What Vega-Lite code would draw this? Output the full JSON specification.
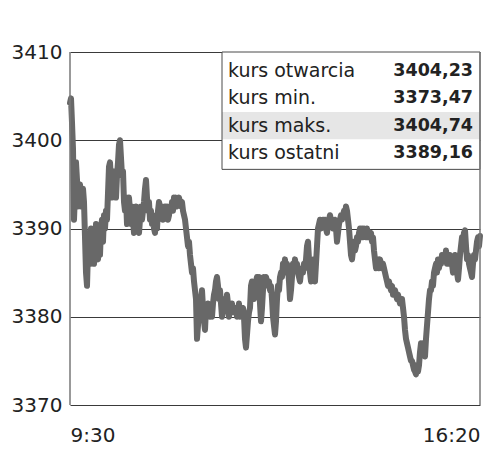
{
  "$schema": "https://vega.github.io/schema/vega-lite/v6.json",
  "width": 410,
  "height": 353,
  "autosize": "none",
  "padding": {"left": 70, "top": 52, "right": 20, "bottom": 55},
  "background": "white",
  "config": {"view": {"stroke": null}, "font": "DejaVu Sans"},
  "datasets": {
    "table": [
      {"row": 1, "label": "kurs otwarcia", "value": "3404,23"},
      {"row": 2, "label": "kurs min.", "value": "3373,47"},
      {"row": 3, "label": "kurs maks.", "value": "3404,74"},
      {"row": 4, "label": "kurs ostatni", "value": "3389,16"}
    ],
    "prices": [
      {"t":"09:30","v":3404.23},{"t":"09:31","v":3404.74},{"t":"09:32","v":3402.0},{"t":"09:33","v":3399.0},{"t":"09:34","v":3391.0},{"t":"09:35","v":3394.0},{"t":"09:36","v":3397.5},{"t":"09:37","v":3395.5},{"t":"09:38","v":3392.5},{"t":"09:39","v":3394.5},
      {"t":"09:40","v":3395.0},{"t":"09:41","v":3392.5},{"t":"09:42","v":3393.0},{"t":"09:43","v":3394.5},{"t":"09:44","v":3393.0},{"t":"09:45","v":3389.0},{"t":"09:46","v":3385.0},{"t":"09:47","v":3383.5},{"t":"09:48","v":3387.5},{"t":"09:49","v":3389.5},
      {"t":"09:50","v":3386.0},{"t":"09:51","v":3390.0},{"t":"09:52","v":3387.5},{"t":"09:53","v":3389.5},{"t":"09:54","v":3386.0},{"t":"09:55","v":3388.5},{"t":"09:56","v":3390.5},{"t":"09:57","v":3387.0},{"t":"09:58","v":3386.5},{"t":"09:59","v":3388.5},
      {"t":"10:00","v":3387.0},{"t":"10:01","v":3390.0},{"t":"10:02","v":3391.0},{"t":"10:03","v":3388.5},{"t":"10:04","v":3391.5},{"t":"10:05","v":3390.0},{"t":"10:06","v":3392.0},{"t":"10:07","v":3391.0},{"t":"10:08","v":3394.0},{"t":"10:09","v":3397.0},
      {"t":"10:10","v":3397.5},{"t":"10:11","v":3395.5},{"t":"10:12","v":3393.5},{"t":"10:13","v":3396.0},{"t":"10:14","v":3395.0},{"t":"10:15","v":3396.5},{"t":"10:16","v":3393.5},{"t":"10:17","v":3396.0},{"t":"10:18","v":3397.5},{"t":"10:19","v":3399.5},
      {"t":"10:20","v":3400.0},{"t":"10:21","v":3398.0},{"t":"10:22","v":3396.0},{"t":"10:23","v":3396.5},{"t":"10:24","v":3393.0},{"t":"10:25","v":3392.0},{"t":"10:26","v":3393.5},{"t":"10:27","v":3390.5},{"t":"10:28","v":3392.0},{"t":"10:29","v":3393.5},
      {"t":"10:30","v":3392.0},{"t":"10:31","v":3390.5},{"t":"10:32","v":3392.5},{"t":"10:33","v":3391.0},{"t":"10:34","v":3389.5},{"t":"10:35","v":3391.5},{"t":"10:36","v":3392.5},{"t":"10:37","v":3390.0},{"t":"10:38","v":3391.5},{"t":"10:39","v":3389.5},
      {"t":"10:40","v":3391.0},{"t":"10:41","v":3392.5},{"t":"10:42","v":3391.0},{"t":"10:43","v":3392.0},{"t":"10:44","v":3393.0},{"t":"10:45","v":3394.5},{"t":"10:46","v":3395.5},{"t":"10:47","v":3393.5},{"t":"10:48","v":3392.0},{"t":"10:49","v":3393.0},
      {"t":"10:50","v":3391.0},{"t":"10:51","v":3392.0},{"t":"10:52","v":3390.5},{"t":"10:53","v":3391.5},{"t":"10:54","v":3390.0},{"t":"10:55","v":3389.5},{"t":"10:56","v":3391.0},{"t":"10:57","v":3390.0},{"t":"10:58","v":3392.0},{"t":"10:59","v":3393.0},
      {"t":"11:00","v":3392.5},{"t":"11:01","v":3391.5},{"t":"11:02","v":3392.5},{"t":"11:03","v":3391.0},{"t":"11:04","v":3392.0},{"t":"11:05","v":3392.5},{"t":"11:06","v":3391.5},{"t":"11:07","v":3392.5},{"t":"11:08","v":3391.0},{"t":"11:09","v":3391.5},
      {"t":"11:10","v":3392.5},{"t":"11:11","v":3392.0},{"t":"11:12","v":3393.0},{"t":"11:13","v":3392.0},{"t":"11:14","v":3393.5},{"t":"11:15","v":3392.5},{"t":"11:16","v":3393.5},{"t":"11:17","v":3392.5},{"t":"11:18","v":3393.0},{"t":"11:19","v":3393.5},
      {"t":"11:20","v":3393.0},{"t":"11:21","v":3392.5},{"t":"11:22","v":3393.0},{"t":"11:23","v":3392.0},{"t":"11:24","v":3391.5},{"t":"11:25","v":3391.0},{"t":"11:26","v":3390.0},{"t":"11:27","v":3389.0},{"t":"11:28","v":3388.0},{"t":"11:29","v":3388.5},
      {"t":"11:30","v":3387.0},{"t":"11:31","v":3386.0},{"t":"11:32","v":3385.0},{"t":"11:33","v":3385.5},{"t":"11:34","v":3384.0},{"t":"11:35","v":3383.0},{"t":"11:36","v":3382.0},{"t":"11:37","v":3377.5},{"t":"11:38","v":3379.0},{"t":"11:39","v":3381.5},
      {"t":"11:40","v":3380.0},{"t":"11:41","v":3382.0},{"t":"11:42","v":3383.0},{"t":"11:43","v":3381.0},{"t":"11:44","v":3379.5},{"t":"11:45","v":3378.5},{"t":"11:46","v":3381.0},{"t":"11:47","v":3380.0},{"t":"11:48","v":3381.5},{"t":"11:49","v":3380.5},
      {"t":"11:50","v":3380.0},{"t":"11:51","v":3381.0},{"t":"11:52","v":3380.0},{"t":"11:53","v":3381.5},{"t":"11:54","v":3382.5},{"t":"11:55","v":3383.0},{"t":"11:56","v":3384.0},{"t":"11:57","v":3384.5},{"t":"11:58","v":3383.5},{"t":"11:59","v":3382.0},
      {"t":"12:00","v":3383.0},{"t":"12:01","v":3381.5},{"t":"12:02","v":3380.0},{"t":"12:03","v":3380.5},{"t":"12:04","v":3381.5},{"t":"12:05","v":3382.0},{"t":"12:06","v":3381.0},{"t":"12:07","v":3382.5},{"t":"12:08","v":3381.5},{"t":"12:09","v":3380.0},
      {"t":"12:10","v":3381.0},{"t":"12:11","v":3380.5},{"t":"12:12","v":3381.5},{"t":"12:13","v":3380.5},{"t":"12:14","v":3381.0},{"t":"12:15","v":3380.5},{"t":"12:16","v":3381.0},{"t":"12:17","v":3380.0},{"t":"12:18","v":3380.5},{"t":"12:19","v":3381.5},
      {"t":"12:20","v":3380.0},{"t":"12:21","v":3381.0},{"t":"12:22","v":3380.5},{"t":"12:23","v":3381.0},{"t":"12:24","v":3380.0},{"t":"12:25","v":3377.5},{"t":"12:26","v":3376.5},{"t":"12:27","v":3378.0},{"t":"12:28","v":3379.5},{"t":"12:29","v":3380.5},
      {"t":"12:30","v":3381.0},{"t":"12:31","v":3383.5},{"t":"12:32","v":3384.0},{"t":"12:33","v":3383.0},{"t":"12:34","v":3382.0},{"t":"12:35","v":3383.5},{"t":"12:36","v":3384.0},{"t":"12:37","v":3384.5},{"t":"12:38","v":3383.5},{"t":"12:39","v":3384.5},
      {"t":"12:40","v":3381.5},{"t":"12:41","v":3379.5},{"t":"12:42","v":3381.0},{"t":"12:43","v":3383.0},{"t":"12:44","v":3384.5},{"t":"12:45","v":3383.5},{"t":"12:46","v":3384.5},{"t":"12:47","v":3384.0},{"t":"12:48","v":3383.5},{"t":"12:49","v":3384.0},
      {"t":"12:50","v":3383.0},{"t":"12:51","v":3383.5},{"t":"12:52","v":3382.0},{"t":"12:53","v":3380.0},{"t":"12:54","v":3379.0},{"t":"12:55","v":3378.0},{"t":"12:56","v":3379.5},{"t":"12:57","v":3382.0},{"t":"12:58","v":3383.5},{"t":"12:59","v":3383.0},
      {"t":"13:00","v":3384.5},{"t":"13:01","v":3385.0},{"t":"13:02","v":3384.5},{"t":"13:03","v":3386.0},{"t":"13:04","v":3385.5},{"t":"13:05","v":3386.5},{"t":"13:06","v":3385.0},{"t":"13:07","v":3386.0},{"t":"13:08","v":3385.5},{"t":"13:09","v":3384.0},
      {"t":"13:10","v":3382.0},{"t":"13:11","v":3383.0},{"t":"13:12","v":3384.5},{"t":"13:13","v":3386.0},{"t":"13:14","v":3385.5},{"t":"13:15","v":3386.5},{"t":"13:16","v":3385.5},{"t":"13:17","v":3386.0},{"t":"13:18","v":3385.0},{"t":"13:19","v":3384.5},
      {"t":"13:20","v":3384.0},{"t":"13:21","v":3385.0},{"t":"13:22","v":3385.5},{"t":"13:23","v":3385.0},{"t":"13:24","v":3386.0},{"t":"13:25","v":3385.5},{"t":"13:26","v":3386.5},{"t":"13:27","v":3388.0},{"t":"13:28","v":3388.5},{"t":"13:29","v":3386.5},
      {"t":"13:30","v":3385.0},{"t":"13:31","v":3384.0},{"t":"13:32","v":3385.5},{"t":"13:33","v":3386.0},{"t":"13:34","v":3386.5},{"t":"13:35","v":3384.0},{"t":"13:36","v":3386.0},{"t":"13:37","v":3388.0},{"t":"13:38","v":3390.0},{"t":"13:39","v":3390.5},
      {"t":"13:40","v":3391.0},{"t":"13:41","v":3390.0},{"t":"13:42","v":3390.5},{"t":"13:43","v":3391.0},{"t":"13:44","v":3390.5},{"t":"13:45","v":3391.0},{"t":"13:46","v":3390.0},{"t":"13:47","v":3389.5},{"t":"13:48","v":3390.5},{"t":"13:49","v":3391.0},
      {"t":"13:50","v":3391.5},{"t":"13:51","v":3391.0},{"t":"13:52","v":3390.5},{"t":"13:53","v":3390.0},{"t":"13:54","v":3390.5},{"t":"13:55","v":3391.0},{"t":"13:56","v":3390.0},{"t":"13:57","v":3388.5},{"t":"13:58","v":3389.5},{"t":"13:59","v":3390.5},
      {"t":"14:00","v":3391.0},{"t":"14:01","v":3391.5},{"t":"14:02","v":3391.0},{"t":"14:03","v":3391.5},{"t":"14:04","v":3392.0},{"t":"14:05","v":3391.5},{"t":"14:06","v":3392.5},{"t":"14:07","v":3392.0},{"t":"14:08","v":3391.0},{"t":"14:09","v":3390.0},
      {"t":"14:10","v":3388.5},{"t":"14:11","v":3387.0},{"t":"14:12","v":3386.5},{"t":"14:13","v":3387.5},{"t":"14:14","v":3388.5},{"t":"14:15","v":3387.5},{"t":"14:16","v":3388.0},{"t":"14:17","v":3389.0},{"t":"14:18","v":3388.5},{"t":"14:19","v":3389.5},
      {"t":"14:20","v":3390.0},{"t":"14:21","v":3389.5},{"t":"14:22","v":3390.0},{"t":"14:23","v":3389.0},{"t":"14:24","v":3390.0},{"t":"14:25","v":3389.5},{"t":"14:26","v":3389.0},{"t":"14:27","v":3390.0},{"t":"14:28","v":3389.0},{"t":"14:29","v":3389.5},
      {"t":"14:30","v":3389.0},{"t":"14:31","v":3389.5},{"t":"14:32","v":3388.5},{"t":"14:33","v":3389.0},{"t":"14:34","v":3387.5},{"t":"14:35","v":3386.5},{"t":"14:36","v":3385.5},{"t":"14:37","v":3386.0},{"t":"14:38","v":3386.5},{"t":"14:39","v":3385.5},
      {"t":"14:40","v":3386.5},{"t":"14:41","v":3386.0},{"t":"14:42","v":3385.5},{"t":"14:43","v":3386.0},{"t":"14:44","v":3385.5},{"t":"14:45","v":3385.0},{"t":"14:46","v":3384.5},{"t":"14:47","v":3384.0},{"t":"14:48","v":3383.5},{"t":"14:49","v":3384.0},
      {"t":"14:50","v":3383.5},{"t":"14:51","v":3383.0},{"t":"14:52","v":3383.5},{"t":"14:53","v":3382.5},{"t":"14:54","v":3382.5},{"t":"14:55","v":3383.0},{"t":"14:56","v":3382.5},{"t":"14:57","v":3382.0},{"t":"14:58","v":3382.5},{"t":"14:59","v":3382.0},
      {"t":"15:00","v":3381.5},{"t":"15:01","v":3382.0},{"t":"15:02","v":3382.0},{"t":"15:03","v":3381.0},{"t":"15:04","v":3380.0},{"t":"15:05","v":3378.5},{"t":"15:06","v":3377.5},{"t":"15:07","v":3377.0},{"t":"15:08","v":3376.5},{"t":"15:09","v":3376.0},
      {"t":"15:10","v":3375.5},{"t":"15:11","v":3375.0},{"t":"15:12","v":3375.0},{"t":"15:13","v":3374.5},{"t":"15:14","v":3374.0},{"t":"15:15","v":3373.8},{"t":"15:16","v":3373.47},{"t":"15:17","v":3374.5},{"t":"15:18","v":3373.8},{"t":"15:19","v":3374.5},
      {"t":"15:20","v":3376.0},{"t":"15:21","v":3377.0},{"t":"15:22","v":3376.5},{"t":"15:23","v":3377.0},{"t":"15:24","v":3376.0},{"t":"15:25","v":3375.5},{"t":"15:26","v":3377.5},{"t":"15:27","v":3379.0},{"t":"15:28","v":3380.5},{"t":"15:29","v":3382.0},
      {"t":"15:30","v":3383.0},{"t":"15:31","v":3383.0},{"t":"15:32","v":3384.0},{"t":"15:33","v":3383.5},{"t":"15:34","v":3385.0},{"t":"15:35","v":3385.5},{"t":"15:36","v":3386.0},{"t":"15:37","v":3385.0},{"t":"15:38","v":3386.5},{"t":"15:39","v":3385.5},
      {"t":"15:40","v":3386.5},{"t":"15:41","v":3386.0},{"t":"15:42","v":3387.0},{"t":"15:43","v":3386.5},{"t":"15:44","v":3387.0},{"t":"15:45","v":3386.5},{"t":"15:46","v":3387.5},{"t":"15:47","v":3386.0},{"t":"15:48","v":3387.0},{"t":"15:49","v":3386.0},
      {"t":"15:50","v":3387.0},{"t":"15:51","v":3386.5},{"t":"15:52","v":3386.0},{"t":"15:53","v":3385.0},{"t":"15:54","v":3386.5},{"t":"15:55","v":3387.0},{"t":"15:56","v":3386.5},{"t":"15:57","v":3385.0},{"t":"15:58","v":3384.2},{"t":"15:59","v":3385.5},
      {"t":"16:00","v":3387.0},{"t":"16:01","v":3388.0},{"t":"16:02","v":3389.0},{"t":"16:03","v":3388.5},{"t":"16:04","v":3389.5},{"t":"16:05","v":3389.8},{"t":"16:06","v":3388.0},{"t":"16:07","v":3386.5},{"t":"16:08","v":3387.0},{"t":"16:09","v":3386.0},
      {"t":"16:10","v":3385.5},{"t":"16:11","v":3385.0},{"t":"16:12","v":3384.5},{"t":"16:13","v":3386.0},{"t":"16:14","v":3387.0},{"t":"16:15","v":3386.5},{"t":"16:16","v":3387.5},{"t":"16:17","v":3388.5},{"t":"16:18","v":3389.0},{"t":"16:19","v":3388.0},
      {"t":"16:20","v":3389.16}
    ]
  },
  "resolve": {"scale": {"y": "independent"}},
  "layer": [
    {
      "data": {"name": "prices", "format": {"parse": {"t": "date:'%H:%M'"}}},
      "layer": [
        {
          "mark": {"type": "line", "color": "#686868", "strokeWidth": 6, "strokeJoin": "round", "strokeCap": "round"},
          "encoding": {
            "x": {
              "field": "t", "type": "temporal",
              "scale": {"domain": [{"year": 1900, "month": 1, "date": 1, "hours": 9, "minutes": 30}, {"year": 1900, "month": 1, "date": 1, "hours": 16, "minutes": 20}], "nice": false},
              "axis": {
                "values": [{"year": 1900, "month": 1, "date": 1, "hours": 9, "minutes": 30}, {"year": 1900, "month": 1, "date": 1, "hours": 16, "minutes": 20}],
                "format": "%-H:%M", "title": null, "ticks": false, "domain": false, "grid": false,
                "labelFlush": true, "labelFont": "DejaVu Sans", "labelFontSize": 20, "labelColor": "#222", "labelPadding": 20
              }
            },
            "y": {
              "field": "v", "type": "quantitative",
              "scale": {"domain": [3370, 3410], "nice": false, "zero": false},
              "axis": {
                "values": [3370, 3380, 3390, 3400, 3410], "format": "d", "title": null, "ticks": false, "domain": false,
                "grid": true, "gridColor": "#3a3a3a", "gridOpacity": 1, "gridWidth": 1,
                "labelFont": "DejaVu Sans", "labelFontSize": 20, "labelColor": "#222", "labelPadding": 8
              }
            }
          }
        }
      ]
    },
    {
      "data": {"values": [{}]},
      "layer": [
        {
          "mark": {"type": "rect", "fill": "white", "strokeWidth": 0},
          "encoding": {
            "x": {"datum": {"year": 1900, "month": 1, "date": 1, "hours": 12, "minutes": 2}, "type": "temporal"},
            "x2": {"datum": {"year": 1900, "month": 1, "date": 1, "hours": 16, "minutes": 20}},
            "y": {"datum": 3410, "type": "quantitative", "scale": {"domain": [3370, 3410], "nice": false, "zero": false}, "axis": null},
            "y2": {"datum": 3396.7}
          }
        }
      ]
    },
    {
      "data": {"name": "table"},
      "encoding": {
        "y": {"field": "row", "type": "ordinal", "scale": {"domain": [1, 2, 3, 4, 5, 6, 7, 8, 9, 10, 11, 12], "paddingInner": 0, "paddingOuter": 0.48, "align": 0.215}, "axis": null}
      },
      "layer": [
        {
          "transform": [{"filter": "datum.row == 3"}],
          "mark": {"type": "rect", "fill": "#e6e6e6"},
          "encoding": {
            "x": {"datum": {"year": 1900, "month": 1, "date": 1, "hours": 12, "minutes": 2}, "type": "temporal"},
            "x2": {"datum": {"year": 1900, "month": 1, "date": 1, "hours": 16, "minutes": 20}}
          }
        },
        {
          "mark": {"type": "text", "align": "left", "baseline": "middle", "font": "DejaVu Sans", "fontSize": 19, "color": "#222"},
          "encoding": {
            "x": {"datum": {"year": 1900, "month": 1, "date": 1, "hours": 12, "minutes": 8}, "type": "temporal"},
            "text": {"field": "label"}
          }
        },
        {
          "mark": {"type": "text", "align": "right", "baseline": "middle", "font": "DejaVu Sans", "fontSize": 17.5, "fontWeight": "bold", "color": "#222"},
          "encoding": {
            "x": {"datum": {"year": 1900, "month": 1, "date": 1, "hours": 16, "minutes": 13}, "type": "temporal"},
            "text": {"field": "value"}
          }
        }
      ]
    },
    {
      "data": {"values": [{}]},
      "encoding": {
        "y": {"datum": 3410, "type": "quantitative", "scale": {"domain": [3370, 3410], "nice": false, "zero": false}, "axis": null}
      },
      "layer": [
        {
          "mark": {"type": "rect", "filled": false, "color": "#4a4a4a", "strokeWidth": 1},
          "encoding": {
            "x": {"datum": {"year": 1900, "month": 1, "date": 1, "hours": 12, "minutes": 2}, "type": "temporal"},
            "x2": {"datum": {"year": 1900, "month": 1, "date": 1, "hours": 16, "minutes": 20}},
            "y2": {"datum": 3396.7}
          }
        },
        {
          "mark": {"type": "rule", "color": "#777777", "strokeWidth": 1.5},
          "encoding": {
            "x": {"datum": {"year": 1900, "month": 1, "date": 1, "hours": 9, "minutes": 30}, "type": "temporal"},
            "y2": {"datum": 3370}
          }
        },
        {
          "mark": {"type": "rule", "color": "#777777", "strokeWidth": 1.5},
          "encoding": {
            "x": {"datum": {"year": 1900, "month": 1, "date": 1, "hours": 16, "minutes": 20}, "type": "temporal"},
            "y2": {"datum": 3370}
          }
        }
      ]
    }
  ]
}
